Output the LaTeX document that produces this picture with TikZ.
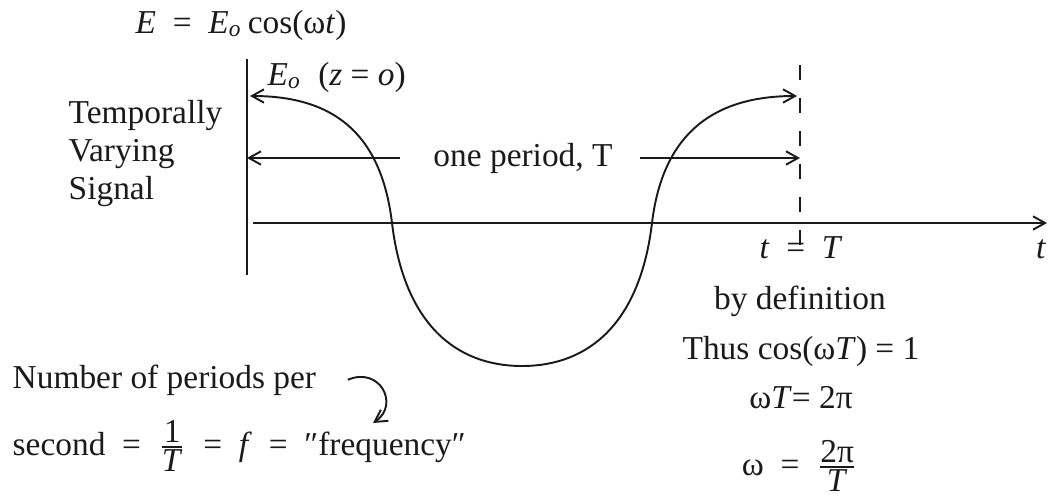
\documentclass[tikz,border=0pt]{standalone}
\usepackage{fontspec}
\setmainfont{Liberation Serif}
\usepackage{tikz}
\usetikzlibrary{arrows.meta}
\definecolor{inkline}{HTML}{1A1A1A}
\newcommand{\vi}[1]{\textit{#1}}
\newcommand{\Esub}{\vi{E}\textsubscript{\vi{o}}}
\newcommand{\ratio}[2]{$\frac{\mbox{#1}}{\mbox{#2}}$}

\begin{document}
\begin{tikzpicture}[
    x=0.01cm, y=-0.01cm,
    every node/.style={inner sep=0pt, font=\fontsize{9.5}{10.7}\selectfont, text=inkline},
    wire/.style={draw=inkline, line width=0.55pt},
    barb/.style={-{Straight Barb[length=3.4pt, width=3.8pt]}},
    twobarb/.style={{Straight Barb[length=3.4pt, width=3.8pt]}-{Straight Barb[length=3.4pt, width=3.8pt]}},
    guide/.style={draw=inkline, line width=0.55pt, dash pattern=on 4.3pt off 5.1pt}
]
\useasboundingbox (0,0) rectangle (1048,497);

% Axes
\coordinate (vtop) at (247,59);
\coordinate (vbot) at (247,275);
\coordinate (t0) at (253,223);
\coordinate (tend) at (1047,223);
\coordinate (dtop) at (800,65);
\coordinate (dbot) at (800,246);
\draw[wire] (vtop) -- (vbot);
\draw[wire, barb] (t0) -- (tend);
\draw[guide] (dtop) -- (dbot);

% One cycle
\coordinate (crest0) at (250,96);
\coordinate (cross1) at (392,223);
\coordinate (trough) at (522,366);
\coordinate (cross2) at (652,223);
\coordinate (crest1) at (797,96);
\draw[wire, twobarb] (crest0) .. controls (340,96) and (382,140) .. (cross1)
    .. controls (404,323) and (455,366) .. (trough)
    .. controls (589,366) and (640,323) .. (cross2)
    .. controls (662,140) and (707,96) .. (crest1);

% Period
\node (period) at (523,158) {one period, T};
\draw[wire, barb] ([xshift=-0.33cm]period.west) -- (vtop |- period);
\draw[wire, barb] ([xshift=0.27cm]period.east) -- (dtop |- period);

% Labels
\node[anchor=base west] (eqn) at (135,33) {\vi{E}\enspace=\enspace\Esub\,cos(ω\vi{t})};
\node[anchor=base west] (eamp) at (267,85) {\Esub\ \ (\vi{z} = \vi{o})};
\node[anchor=north west, align=left] (signal) at (68,100) {Temporally\\Varying\\Signal};
\node[anchor=base] (tT) at (801,258) {\vi{t}\enspace=\enspace\vi{T}};
\node[anchor=base] (tlab) at (1041,258) {\vi{t}};

% Right column
\node[anchor=base] (bydef) at (800,309) {by definition};
\node[anchor=base] (thus) at (801,359) {Thus cos(ω\vi{T}) = 1};
\node[anchor=base] (wT) at (801,408) {ω\vi{T}= 2π};
\node[anchor=base] (wdef) at (800,475) {ω\enspace=\enspace\ratio{2π}{\vi{T}}};

% Frequency
\node[anchor=base west] (count) at (12,388) {Number of periods per};
\node[anchor=base west] (freq) at (12,455) {second\enspace=\enspace\ratio{1}{\vi{T}}\enspace=\enspace\vi{f}\enspace=\enspace″frequency″};
\coordinate (hookend) at (373,423);
\draw[wire, barb] ([xshift=0.31cm]count.east) .. controls (380,366) and (400,405) .. (hookend);
\end{tikzpicture}
\end{document}
